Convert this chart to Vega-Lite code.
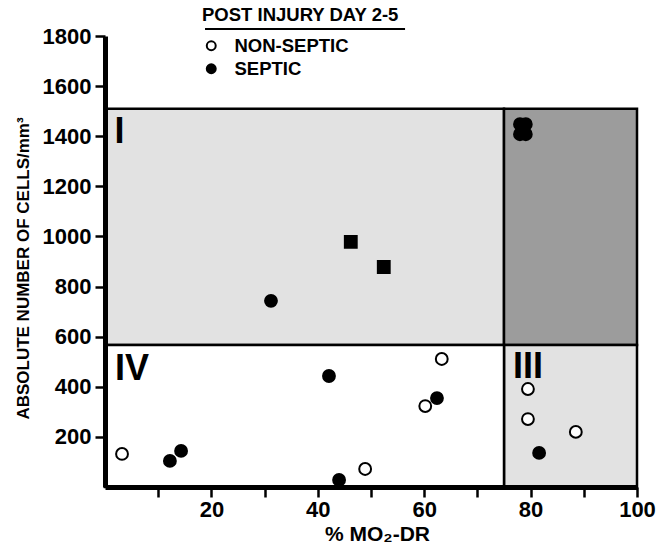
{
  "$schema": "https://vega.github.io/schema/vega-lite/v6.json",
  "width": 532,
  "height": 451,
  "autosize": {"type": "none"},
  "padding": {"left": 105, "top": 36, "right": 34, "bottom": 59},
  "background": "white",
  "config": {"view": {"stroke": null}, "font": "Liberation Sans"},
  "datasets": {
    "quadrants": [
      {"q": "I", "x": 0, "x2": 75, "y": 567, "y2": 1510},
      {"q": "II", "x": 75, "x2": 100, "y": 567, "y2": 1510},
      {"q": "III", "x": 75, "x2": 100, "y": 0, "y2": 567},
      {"q": "IV", "x": 0, "x2": 75, "y": 0, "y2": 567}
    ],
    "points": [
      {"x": 3.2, "y": 132, "group": "NON-SEPTIC", "shape": "circle"},
      {"x": 48.9, "y": 72, "group": "NON-SEPTIC", "shape": "circle"},
      {"x": 63.3, "y": 511, "group": "NON-SEPTIC", "shape": "circle"},
      {"x": 60.2, "y": 323, "group": "NON-SEPTIC", "shape": "circle"},
      {"x": 79.5, "y": 391, "group": "NON-SEPTIC", "shape": "circle"},
      {"x": 79.5, "y": 271, "group": "NON-SEPTIC", "shape": "circle"},
      {"x": 88.5, "y": 220, "group": "NON-SEPTIC", "shape": "circle"},
      {"x": 12.2, "y": 104, "group": "SEPTIC", "shape": "circle"},
      {"x": 14.3, "y": 144, "group": "SEPTIC", "shape": "circle"},
      {"x": 42.1, "y": 443, "group": "SEPTIC", "shape": "circle"},
      {"x": 44.0, "y": 28, "group": "SEPTIC", "shape": "circle"},
      {"x": 62.4, "y": 355, "group": "SEPTIC", "shape": "circle"},
      {"x": 81.6, "y": 136, "group": "SEPTIC", "shape": "circle"},
      {"x": 31.2, "y": 743, "group": "SEPTIC", "shape": "circle"},
      {"x": 46.2, "y": 978, "group": "SEPTIC", "shape": "square"},
      {"x": 52.4, "y": 878, "group": "SEPTIC", "shape": "square"},
      {"x": 78.0, "y": 1448, "group": "SEPTIC", "shape": "circle"},
      {"x": 79.1, "y": 1448, "group": "SEPTIC", "shape": "circle"},
      {"x": 78.0, "y": 1408, "group": "SEPTIC", "shape": "circle"},
      {"x": 79.1, "y": 1408, "group": "SEPTIC", "shape": "circle"},
      {"x": 78.5, "y": 1428, "group": "SEPTIC", "shape": "circle"}
    ],
    "labels": [
      {"x": 1.8, "y": 1373, "label": "I"},
      {"x": 1.9, "y": 427, "label": "IV"},
      {"x": 76.7, "y": 435, "label": "III"}
    ],
    "underline": [
      {"x": 18.8, "x2": 56.4, "y": 1828}
    ]
  },
  "encoding": {
    "x": {
      "field": "x",
      "type": "quantitative",
      "scale": {"domain": [0, 100], "nice": false, "zero": false},
      "axis": {
        "title": "% MO₂-DR",
        "values": [10, 20, 30, 40, 50, 60, 70, 80, 90, 100],
        "labelExpr": "datum.value % 20 === 0 ? datum.label : ''",
        "grid": false,
        "zindex": 1,
        "domainColor": "black",
        "domainWidth": 5,
        "tickColor": "black",
        "tickWidth": 2.5,
        "tickSize": 10,
        "labelFont": "Liberation Sans",
        "labelFontWeight": "bold",
        "labelFontSize": 22,
        "labelColor": "black",
        "labelPadding": 2,
        "labelFlush": false,
        "titleFont": "Liberation Sans",
        "titleFontWeight": "bold",
        "titleFontSize": 21,
        "titleColor": "black",
        "titleX": 272,
        "titleY": 53,
        "titleBaseline": "alphabetic",
        "titleAlign": "center"
      }
    },
    "y": {
      "field": "y",
      "type": "quantitative",
      "scale": {"domain": [0, 1800], "nice": false, "zero": false},
      "axis": {
        "title": "ABSOLUTE NUMBER OF CELLS/mm³",
        "values": [200, 400, 600, 800, 1000, 1200, 1400, 1600, 1800],
        "format": "d",
        "grid": false,
        "zindex": 1,
        "domainColor": "black",
        "domainWidth": 5,
        "tickColor": "black",
        "tickWidth": 2.5,
        "tickSize": 10,
        "labelFont": "Liberation Sans",
        "labelFontWeight": "bold",
        "labelFontSize": 22,
        "labelColor": "black",
        "labelPadding": 4,
        "labelFlush": false,
        "titleFont": "Liberation Sans",
        "titleFontWeight": "bold",
        "titleFontSize": 17,
        "titleColor": "black",
        "titleX": -82,
        "titleY": 232,
        "titleAngle": 270,
        "titleBaseline": "middle",
        "titleAlign": "center",
        "titleLimit": 1000
      }
    }
  },
  "layer": [
    {
      "data": {"name": "quadrants"},
      "mark": {"type": "rect", "stroke": "black", "strokeWidth": 2.5},
      "encoding": {
        "x2": {"field": "x2"},
        "y2": {"field": "y2"},
        "color": {
          "field": "q",
          "type": "nominal",
          "scale": {"domain": ["I", "II", "III", "IV"], "range": ["#e2e2e2", "#9c9c9c", "#e2e2e2", "#ffffff"]},
          "legend": null
        }
      }
    },
    {
      "data": {"name": "underline"},
      "mark": {"type": "rule", "strokeWidth": 2, "color": "black"},
      "encoding": {"x2": {"field": "x2"}}
    },
    {
      "data": {"name": "points"},
      "mark": {"type": "point", "filled": true, "size": 140, "stroke": "black", "strokeWidth": 2, "opacity": 1},
      "encoding": {
        "fill": {
          "field": "group",
          "type": "nominal",
          "scale": {"domain": ["NON-SEPTIC", "SEPTIC"], "range": ["white", "black"]},
          "legend": {
            "title": "POST INJURY DAY 2-5",
            "orient": "none",
            "legendX": 97,
            "legendY": -30,
            "padding": 0,
            "titleFont": "Liberation Sans",
            "titleFontSize": 18.5,
            "titleFontWeight": "bold",
            "titleColor": "black",
            "titlePadding": 12,
            "titleLimit": 1000,
            "labelFont": "Liberation Sans",
            "labelFontSize": 18.5,
            "labelFontWeight": "bold",
            "labelColor": "black",
            "labelLimit": 1000,
            "labelOffset": 14,
            "rowPadding": 4,
            "symbolType": "circle",
            "symbolSize": 80,
            "symbolStrokeColor": "black",
            "symbolStrokeWidth": 2
          }
        },
        "shape": {"field": "shape", "type": "nominal", "scale": null, "legend": null}
      }
    },
    {
      "data": {"name": "labels"},
      "mark": {"type": "text", "align": "left", "baseline": "alphabetic", "fontSize": 36, "fontWeight": "bold", "font": "Liberation Sans", "color": "black"},
      "encoding": {"text": {"field": "label", "type": "nominal"}}
    }
  ]
}
